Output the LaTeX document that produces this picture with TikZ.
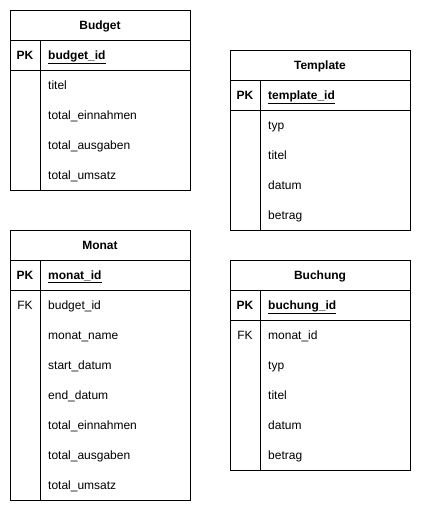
\documentclass[tikz,border=0pt]{standalone}
\usepackage{fontspec}
\setmainfont{Liberation Sans}
\begin{document}
\begin{tikzpicture}[x=1pt,y=-1pt,
  font=\fontsize{12}{14}\selectfont,
  tbl/.style={draw=black, line width=1pt},
  ttl/.style={font=\bfseries\fontsize{12}{14}\selectfont, anchor=center, inner sep=0pt, text height=9.5pt, text depth=1pt},
  keytxt/.style={anchor=center, inner sep=0pt, text height=9.5pt, text depth=1pt},
  fld/.style={anchor=west, inner sep=0pt, text height=9.5pt, text depth=1pt},
  bld/.style={font=\bfseries\fontsize{12}{14}\selectfont}]
\useasboundingbox (0,0) rectangle (422,512);
% ---------- Budget ----------
\draw[tbl] (10,10) rectangle (190,190);
\draw[tbl] (10,40) -- (190,40) (10,70) -- (190,70) (40,40) -- (40,190);
\node[ttl] (budget) at (100,25) {Budget};
\node[keytxt,bld] (budget-pk) at (25,55) {PK};
\node[fld,bld] (budget-id) at (48,55) {\underline{budget\_id}};
\foreach \t [count=\i] in {titel,total\_einnahmen,total\_ausgaben,total\_umsatz}
  \node[fld] (budget-f\i) at (48,{55+30*\i}) {\t};
% ---------- Template ----------
\draw[tbl] (230,50) rectangle (410,230);
\draw[tbl] (230,80) -- (410,80) (230,110) -- (410,110) (260,80) -- (260,230);
\node[ttl] (template) at (320,65) {Template};
\node[keytxt,bld] (template-pk) at (245,95) {PK};
\node[fld,bld] (template-id) at (268,95) {\underline{template\_id}};
\foreach \t [count=\i] in {typ,titel,datum,betrag}
  \node[fld] (template-f\i) at (268,{95+30*\i}) {\t};
% ---------- Monat ----------
\draw[tbl] (10,230) rectangle (190,500);
\draw[tbl] (10,260) -- (190,260) (10,290) -- (190,290) (40,260) -- (40,500);
\node[ttl] (monat) at (100,245) {Monat};
\node[keytxt,bld] (monat-pk) at (25,275) {PK};
\node[fld,bld] (monat-id) at (48,275) {\underline{monat\_id}};
\node[keytxt] (monat-fk) at (25,305) {FK};
\foreach \t [count=\i] in {budget\_id,monat\_name,start\_datum,end\_datum,total\_einnahmen,total\_ausgaben,total\_umsatz}
  \node[fld] (monat-f\i) at (48,{275+30*\i}) {\t};
% ---------- Buchung ----------
\draw[tbl] (230,260) rectangle (410,470);
\draw[tbl] (230,290) -- (410,290) (230,320) -- (410,320) (260,290) -- (260,470);
\node[ttl] (buchung) at (320,275) {Buchung};
\node[keytxt,bld] (buchung-pk) at (245,305) {PK};
\node[fld,bld] (buchung-id) at (268,305) {\underline{buchung\_id}};
\node[keytxt] (buchung-fk) at (245,335) {FK};
\foreach \t [count=\i] in {monat\_id,typ,titel,datum,betrag}
  \node[fld] (buchung-f\i) at (268,{305+30*\i}) {\t};
\end{tikzpicture}
\end{document}
